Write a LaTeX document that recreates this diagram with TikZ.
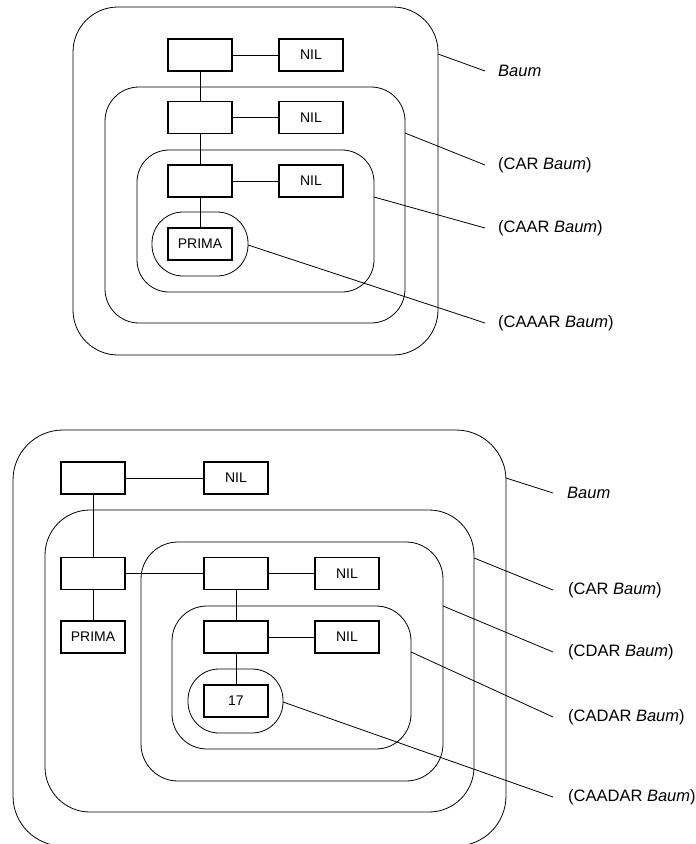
\documentclass[tikz,border=0pt]{standalone}
\usepackage{fontspec}
\setmainfont{Liberation Sans}
\begin{document}
\begin{tikzpicture}[x=1pt,y=-1pt,
  cell/.style={draw,line width=1.1pt,minimum width=64pt,minimum height=32pt,inner sep=0pt,font=\fontsize{14}{16}\selectfont},
  region/.style={draw,line width=0.8pt},
  link/.style={line width=0.8pt},
  lead/.style={line width=0.8pt},
  lbl/.style={anchor=west,inner sep=0pt,font=\fontsize{16.5}{19}\selectfont}]
\useasboundingbox (0,0) rectangle (696,844);

% ---------------- top diagram ----------------
\draw[region,rounded corners=45pt] (73,7) rectangle (438,355);
\draw[region,rounded corners=34pt] (105,87) rectangle (405,323);
\draw[region,rounded corners=32pt] (137,150) rectangle (374,292);
\draw[region,rounded corners=31pt] (152,212) rectangle (248,276);

\node[cell] (a1) at (200,55) {};
\node[cell] (n1) at (311,55) {NIL};
\node[cell] (a2) at (200,117.5) {};
\node[cell] (n2) at (311,117.5) {NIL};
\node[cell] (a3) at (200,181) {};
\node[cell] (n3) at (311,181) {NIL};
\node[cell] (p1) at (200,244) {PRIMA};

\draw[link] (a1) -- (n1);
\draw[link] (a1) -- (a2);
\draw[link] (a2) -- (n2);
\draw[link] (a2) -- (a3);
\draw[link] (a3) -- (n3);
\draw[link] (a3) -- (p1);

\node[lbl] (t1) at (498,71) {\textit{Baum}};
\node[lbl] (t2) at (498,165) {(CAR \textit{Baum})};
\node[lbl] (t3) at (498,228) {(CAAR \textit{Baum})};
\node[lbl] (t4) at (498,323) {(CAAAR \textit{Baum})};
\coordinate (s1) at (438,54);
\coordinate (s2) at (405,133);
\coordinate (s3) at (374,197);
\coordinate (s4) at (248,245);
\draw[lead] (s1) -- ([xshift=-13pt]t1.west);
\draw[lead] (s2) -- ([xshift=-13pt]t2.west);
\draw[lead] (s3) -- ([xshift=-13pt]t3.west);
\draw[lead] (s4) -- ([xshift=-13pt]t4.west);

% ---------------- bottom diagram ----------------
\draw[region,rounded corners=50pt] (13,430) rectangle (506,846);
\draw[region,rounded corners=45pt] (45,510) rectangle (474,812);
\draw[region,rounded corners=37pt] (141,542) rectangle (443,781);
\draw[region,rounded corners=35pt] (172,606) rectangle (411,749);
\draw[region,rounded corners=31pt] (188,669) rectangle (283,733);

\node[cell] (b1) at (93,478) {};
\node[cell] (m1) at (236,478) {NIL};
\node[cell] (b2) at (93,573.5) {};
\node[cell] (b3) at (236,573.5) {};
\node[cell] (m3) at (347,573.5) {NIL};
\node[cell] (p2) at (93,637) {PRIMA};
\node[cell] (b4) at (236,637) {};
\node[cell] (m4) at (347,637) {NIL};
\node[cell] (v17) at (236,701) {17};

\draw[link] (b1) -- (m1);
\draw[link] (b1) -- (b2);
\draw[link] (b2) -- (p2);
\draw[link] (b2) -- (b3);
\draw[link] (b3) -- (m3);
\draw[link] (b3) -- (b4);
\draw[link] (b4) -- (m4);
\draw[link] (b4) -- (v17);

\node[lbl] (u1) at (567,493) {\textit{Baum}};
\node[lbl] (u2) at (568,590) {(CAR \textit{Baum})};
\node[lbl] (u3) at (568,652) {(CDAR \textit{Baum})};
\node[lbl] (u4) at (568,717) {(CADAR \textit{Baum})};
\node[lbl] (u5) at (568,797) {(CAADAR \textit{Baum})};
\coordinate (r1) at (506,478);
\coordinate (r2) at (474,558);
\coordinate (r3) at (443,606);
\coordinate (r4) at (411,652);
\coordinate (r5) at (283,702);
\draw[lead] (r1) -- ([xshift=-14pt]u1.west);
\draw[lead] (r2) -- ([xshift=-15pt]u2.west);
\draw[lead] (r3) -- ([xshift=-15pt]u3.west);
\draw[lead] (r4) -- ([xshift=-15pt]u4.west);
\draw[lead] (r5) -- ([xshift=-15pt]u5.west);
\end{tikzpicture}
\end{document}
